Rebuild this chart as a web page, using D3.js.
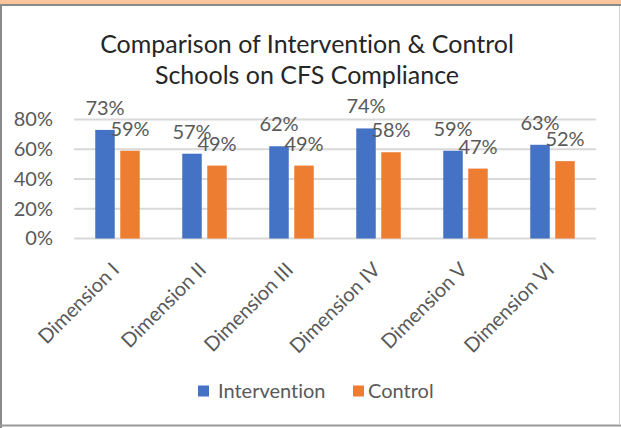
<!DOCTYPE html>
<html>
<head>
<meta charset="utf-8">
<script src="https://cdn.jsdelivr.net/npm/d3@7"></script>
<style>
  body { margin: 0; background: #fff; }
  svg text { font-family: Lato, "Open Sans", sans-serif; font-variant-ligatures: none; }
</style>
</head>
<body>
<svg width="621" height="428"></svg>
<script>
// chart data
var categories = ["Dimension I", "Dimension II", "Dimension III", "Dimension IV", "Dimension V", "Dimension VI"];
var seriesNames = ["Intervention", "Control"];
var intervention = [0.73, 0.57, 0.62, 0.74, 0.59, 0.63];
var control = [0.59, 0.49, 0.49, 0.58, 0.47, 0.52];
var yTicks = [0, 0.2, 0.4, 0.6, 0.8];
var titleLines = ["Comparison of Intervention & Control", "Schools on CFS Compliance"];

var colors = { "Intervention": "#4472c4", "Control": "#ed7d31" };
var textGrey = "#595959";

var svg = d3.select("svg");
var W = 621, H = 428;

// frame (orange strip on top, grey borders)
svg.append("rect").attr("x", 0).attr("y", 0).attr("width", W).attr("height", 4).attr("fill", "#fac59c");
svg.append("line").attr("x1", 0).attr("x2", W).attr("y1", 5).attr("y2", 5).attr("stroke", "#8a8a8a").attr("stroke-width", 2);
svg.append("line").attr("x1", 1).attr("x2", 1).attr("y1", 4).attr("y2", H).attr("stroke", "#8a8a8a").attr("stroke-width", 2);
svg.append("line").attr("x1", 0).attr("x2", W).attr("y1", 425.5).attr("y2", 425.5).attr("stroke", "#9a9a9a").attr("stroke-width", 2);
svg.append("line").attr("x1", 619.5).attr("x2", 619.5).attr("y1", 6).attr("y2", 425).attr("stroke", "#d4d4d4").attr("stroke-width", 1);

// title
svg.append("g").selectAll("text").data(titleLines).enter().append("text")
  .attr("x", 307)
  .attr("y", function(d, i){ return 53 + i * 31; })
  .attr("text-anchor", "middle")
  .attr("font-size", 25)
  .attr("fill", "#262626")
  .text(function(d){ return d; });

// scales
var x = d3.scaleBand().domain(categories).range([74, 596]);
var x1 = d3.scaleBand().domain(seriesNames).range([0, x.bandwidth()]).paddingInner(0.22).paddingOuter(0.85);
var y = d3.scaleLinear().domain([0, 0.8]).range([238.5, 119.5]);

// gridlines
svg.append("g").selectAll("line").data(yTicks).enter().append("line")
  .attr("x1", 74).attr("x2", 596)
  .attr("y1", function(d){ return y(d); })
  .attr("y2", function(d){ return y(d); })
  .attr("stroke", "#d9d9d9").attr("stroke-width", 2);

// y axis labels
var yAxis = d3.axisLeft(y).tickValues(yTicks).tickFormat(d3.format(".0%")).tickSize(0).tickPadding(0);
var yg = svg.append("g").attr("transform", "translate(53,0)").call(yAxis);
yg.select(".domain").remove();
yg.selectAll("text").attr("font-size", 20).attr("fill", textGrey).attr("font-family", "Lato, sans-serif");

// x axis labels rotated
var xAxis = d3.axisBottom(x).tickSize(0).tickPadding(0);
var xg = svg.append("g").call(xAxis);
xg.select(".domain").remove();
xg.selectAll(".tick").attr("transform", function(d){ return "translate(" + (x(d) + x.bandwidth() / 2 + 3) + ",271)"; });
xg.selectAll("text")
  .attr("y", 0).attr("dy", 0)
  .attr("transform", "rotate(-45)")
  .attr("text-anchor", "end")
  .attr("font-size", 20)
  .attr("fill", textGrey)
  .attr("font-family", "Lato, sans-serif");

// bars
var rows = categories.map(function(c, i){
  return { cat: c, vals: [ { s: "Intervention", v: intervention[i] }, { s: "Control", v: control[i] } ] };
});

var groups = svg.append("g").selectAll("g").data(rows).enter().append("g")
  .attr("transform", function(d){ return "translate(" + x(d.cat) + ",0)"; });

groups.selectAll("rect").data(function(d){ return d.vals; }).enter().append("rect")
  .attr("x", function(d){ return x1(d.s); })
  .attr("width", x1.bandwidth())
  .attr("y", function(d){ return y(d.v); })
  .attr("height", function(d){ return y(0) - y(d.v); })
  .attr("fill", function(d){ return colors[d.s]; });

groups.selectAll("text.lbl").data(function(d){ return d.vals; }).enter().append("text")
  .attr("class", "lbl")
  .attr("x", function(d){ return x1(d.s) + x1.bandwidth() / 2; })
  .attr("y", function(d){ return y(d.v) - 22; })
  .attr("dy", "0.35em")
  .attr("text-anchor", "middle")
  .attr("font-size", 20)
  .attr("fill", textGrey)
  .text(function(d){ return d3.format(".0%")(d.v); });

// legend
var legend = svg.append("g").attr("transform", "translate(198,391)");
var legItems = [ { s: "Intervention", x: 0, tx: 20 }, { s: "Control", x: 155, tx: 170 } ];
legItems.forEach(function(it){
  legend.append("rect").attr("x", it.x).attr("y", -5.5).attr("width", 11).attr("height", 11).attr("fill", colors[it.s]);
  legend.append("text").attr("x", it.tx).attr("y", 0).attr("dy", "0.35em")
    .attr("font-size", 20).attr("fill", textGrey).text(it.s);
});
</script>
</body>
</html>
